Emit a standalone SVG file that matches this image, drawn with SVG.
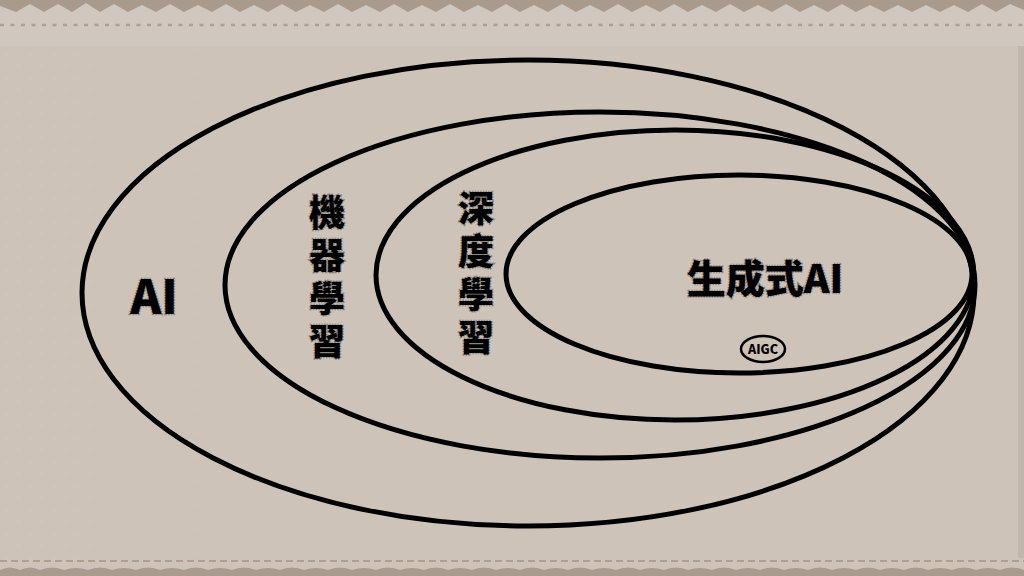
<svg xmlns="http://www.w3.org/2000/svg" width="1024" height="576" viewBox="0 0 1024 576">
<defs>
<style>
.ring{fill:none;stroke:#000;stroke-width:5}
.lbl{font-family:"Noto Sans CJK TC","Noto Sans CJK SC",sans-serif;font-weight:900;fill:#000;stroke:#8a8580;stroke-width:2.5;stroke-dasharray:1.5 1.2;paint-order:stroke}
.vert{writing-mode:vertical-rl;letter-spacing:7px}
</style>
<pattern id="dots" width="24" height="24" patternUnits="userSpaceOnUse">
<circle cx="6" cy="6" r="3" fill="#d6c6c2" opacity="0.4"/>
<circle cx="18" cy="18" r="3" fill="#d6c6c2" opacity="0.4"/>
</pattern>
<linearGradient id="fade" x1="0" x2="1" y1="0" y2="0">
<stop offset="0" stop-color="#fff" stop-opacity="1"/>
<stop offset="0.2" stop-color="#fff" stop-opacity="0"/>
</linearGradient>
<mask id="m"><rect width="1024" height="576" fill="url(#fade)"/></mask>
</defs>
<g id="background">
<rect width="1024" height="576" fill="#cdc3b9"/>
<rect width="1024" height="576" fill="url(#dots)" mask="url(#m)"/>
<rect x="0" y="0" width="1024" height="46" fill="#d0c7be"/>
<polygon fill="#a89a8d" points="0,0 1024,0 1024,10 1010,4 996,12 982,4 968,12 954,5 940,12 926,5 912,12 898,5 884,12 870,5 856,12 842,4 828,12 814,5 800,12 786,4 772,12 758,5 744,12 730,4 716,12 702,5 688,12 674,4 660,12 646,5 632,12 618,4 604,12 590,5 576,12 562,4 548,12 534,5 520,12 506,4 492,12 478,5 464,12 450,4 436,12 422,5 408,12 394,4 380,12 366,5 352,12 338,4 324,12 310,5 296,12 282,4 268,12 254,5 240,12 226,4 212,12 198,5 184,12 170,4 156,12 142,5 128,12 114,4 100,12 86,3 72,12 58,4 44,12 30,4 16,12 0,6"/>
<line x1="0" y1="25" x2="1024" y2="25" stroke="#b09e92" stroke-width="2.5" stroke-dasharray="4 6.5"/>
<line x1="0" y1="561" x2="1024" y2="561" stroke="#b09e92" stroke-width="2" stroke-dasharray="7 4"/>
<path fill="#a99b8e" d="M0,576 L0,570 Q10,565 20,570 Q30,565 40,570 Q52,565 64,570 Q76,566 88,570 Q100,565 112,570 Q124,566 136,570 Q148,565 160,570 Q172,566 184,570 Q196,565 208,570 Q220,566 232,570 Q244,565 256,570 Q268,566 280,570 Q292,565 304,570 Q316,566 328,570 Q340,565 352,570 Q364,566 376,570 Q388,565 400,570 Q412,566 424,570 Q436,565 448,570 Q460,566 472,570 Q484,565 496,570 Q508,566 520,570 Q532,565 544,570 Q556,566 568,570 Q580,565 592,570 Q604,566 616,570 Q628,565 640,570 Q652,566 664,570 Q676,565 688,570 Q700,566 712,570 Q724,565 736,570 Q748,566 760,570 Q772,565 784,570 Q796,566 808,570 Q820,565 832,570 Q844,566 856,570 Q868,565 880,570 Q892,566 904,570 Q916,565 928,570 Q940,566 952,570 Q964,565 976,570 Q988,566 1000,570 Q1012,565 1024,570 L1024,576 Z"/>
<rect x="1018" y="46" width="6" height="512" fill="#b8aca2" opacity="0.5"/>
</g>
<g id="connectors"></g>
<g id="node-ai">
<ellipse class="ring" cx="528" cy="293" rx="446" ry="233"/>
<text class="lbl" x="154" y="314" font-size="47" text-anchor="middle">AI</text>
</g>
<g id="node-ml">
<ellipse class="ring" cx="600" cy="285" rx="375" ry="173"/>
<text class="lbl vert" x="327" y="194" font-size="36">機器學習</text>
</g>
<g id="node-dl">
<ellipse class="ring" cx="675" cy="275" rx="299" ry="145"/>
<text class="lbl vert" x="476" y="190" font-size="36">深度學習</text>
</g>
<g id="node-gen">
<ellipse class="ring" cx="739" cy="274" rx="233" ry="99"/>
<text class="lbl" x="765" y="293" font-size="39" text-anchor="middle">生成式AI</text>
</g>
<g id="node-aigc">
<ellipse cx="763" cy="349" rx="22" ry="13" fill="none" stroke="#000" stroke-width="2.5"/>
<text x="763" y="354" font-size="12.5" font-family="'Noto Sans CJK TC',sans-serif" font-weight="900" text-anchor="middle" fill="#000">AIGC</text>
</g>
</svg>
